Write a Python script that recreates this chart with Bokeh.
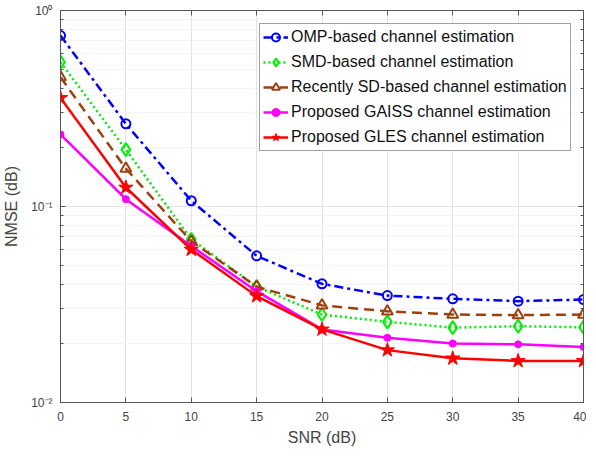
from bokeh.plotting import figure
from bokeh.models import (LogAxis, LinearAxis, FixedTicker,
                          CustomJSTickFormatter, Legend)
from bokeh.embed import file_html
from bokeh.resources import INLINE

snr = [0, 5, 10, 15, 20, 25, 30, 35, 40]
omp = [0.745, 0.264, 0.107, 0.056, 0.0403, 0.0351, 0.0338, 0.0329, 0.0335]
smd = [0.545, 0.195, 0.068, 0.039, 0.0281, 0.0258, 0.0241, 0.0245, 0.0242]
sd = [0.457, 0.156, 0.0665, 0.039, 0.0313, 0.0292, 0.0281, 0.0279, 0.0281]
gaiss = [0.233, 0.109, 0.0628, 0.037, 0.0236, 0.0214, 0.0200, 0.0198, 0.0192]
gles = [0.358, 0.125, 0.0603, 0.0349, 0.0236, 0.0185, 0.0168, 0.0163, 0.0163]

labels = ["OMP-based channel estimation",
          "SMD-based channel estimation",
          "Recently SD-based channel estimation",
          "Proposed GAISS channel estimation",
          "Proposed GLES channel estimation"]
x_ticks = [0, 5, 10, 15, 20, 25, 30, 35, 40]
y_ticks = [0.01, 0.1, 1]
y_minor = [0.02, 0.03, 0.04, 0.05, 0.06, 0.07, 0.08, 0.09,
           0.2, 0.3, 0.4, 0.5, 0.6, 0.7, 0.8, 0.9]

FONT = "Liberation Sans"
AX = "#555555"
TXT = "#444444"

p = figure(frame_width=523, frame_height=392, output_backend="svg",
           toolbar_location=None,
           y_axis_type="log", x_range=(0, 40), y_range=(0.01, 1),
           min_border_left=56, min_border_right=3, min_border_top=10,
           min_border_bottom=46)
p.xaxis.visible = False
p.yaxis.visible = False

sup_js = """
const e = Math.round(Math.log10(tick));
const m = {'-':'\u207b','0':'\u2070','1':'\u00b9','2':'\u00b2','3':'\u00b3'};
return '10' + String(e).split('').map(c => m[c]).join('');
"""

def style(ax, show_labels):
    ax.axis_line_color = AX
    ax.major_tick_line_color = AX
    ax.minor_tick_line_color = AX
    ax.major_tick_in = 5
    ax.major_tick_out = 0
    ax.minor_tick_in = 3
    ax.minor_tick_out = 0
    ax.major_label_text_font = FONT
    ax.major_label_text_color = TXT
    ax.axis_label_text_font = FONT
    ax.axis_label_text_font_style = "normal"
    ax.axis_label_text_color = TXT
    if not show_labels:
        ax.major_label_text_color = None
        ax.major_label_text_font_size = "1px"
        ax.major_label_standoff = 0

xt = FixedTicker(ticks=x_ticks)
bottom = LinearAxis(ticker=xt, axis_label="SNR (dB)")
style(bottom, True)
bottom.major_label_text_font_size = "12px"
bottom.major_label_standoff = 9
bottom.axis_label_text_font_size = "16px"
bottom.axis_label_standoff = 5
bottom.minor_tick_line_color = None
p.add_layout(bottom, "below")

top = LinearAxis(ticker=xt)
style(top, False)
top.minor_tick_line_color = None
p.add_layout(top, "above")

yt = FixedTicker(ticks=y_ticks, minor_ticks=y_minor)
left = LogAxis(ticker=yt, axis_label="NMSE (dB)",
               formatter=CustomJSTickFormatter(code=sup_js))
style(left, True)
left.major_label_text_font_size = "12px"
left.major_label_standoff = 8
left.axis_label_text_font_size = "16px"
left.axis_label_standoff = 8
p.add_layout(left, "left")

right = LogAxis(ticker=yt)
style(right, False)
p.add_layout(right, "right")

p.xgrid.ticker = xt
p.xgrid.grid_line_color = "#e3e3e3"
p.ygrid.ticker = yt
p.ygrid.grid_line_color = "#e3e3e3"
p.ygrid.minor_grid_line_color = "#ececec"
p.ygrid.minor_grid_line_dash = "2 2"
p.outline_line_color = AX
p.background_fill_color = "white"

r1 = p.line(snr, omp, line_color="#0000ff", line_width=2.5, line_dash="9 4 3 4")
s1 = p.scatter(snr, omp, marker="circle", size=9, line_color="#0000ff",
               fill_color=None, line_width=2)
r2 = p.line(snr, smd, line_color="#00ee00", line_width=2.5, line_dash="2 3")
s2 = p.scatter(snr, smd, marker="diamond", size=13, line_color="#00ee00",
               fill_color=None, line_width=2)
r3 = p.line(snr, sd, line_color="#a0400f", line_width=2.5, line_dash="10 6")
s3 = p.scatter(snr, sd, marker="triangle", size=11, line_color="#a0400f",
               fill_color=None, line_width=2)
r4 = p.line(snr, gaiss, line_color="#ff00ff", line_width=2.5)
s4 = p.scatter(snr, gaiss, marker="circle", size=7, line_color="#ff00ff",
               fill_color="#ff00ff")
r5 = p.line(snr, gles, line_color="#ff0000", line_width=2.5)
s5 = p.scatter(snr, gles, marker="star", size=15, line_color="#ff0000",
               fill_color="#ff0000")

legend = Legend(items=[(labels[0], [r1, s1]), (labels[1], [r2, s2]),
                       (labels[2], [r3, s3]), (labels[3], [r4, s4]),
                       (labels[4], [r5, s5])],
                location=(199, 251))
legend.label_text_font = FONT
legend.label_text_font_size = "16px"
legend.label_text_color = "#111111"
legend.glyph_width = 25
legend.glyph_height = 20
legend.label_height = 20
legend.spacing = 5
legend.padding = 3
legend.margin = 0
legend.label_standoff = 3
legend.border_line_color = "#444444"
legend.border_line_width = 1
legend.background_fill_color = "white"
legend.background_fill_alpha = 1.0
p.add_layout(legend, "center")

open("out.html", "w").write(file_html(p, INLINE))
